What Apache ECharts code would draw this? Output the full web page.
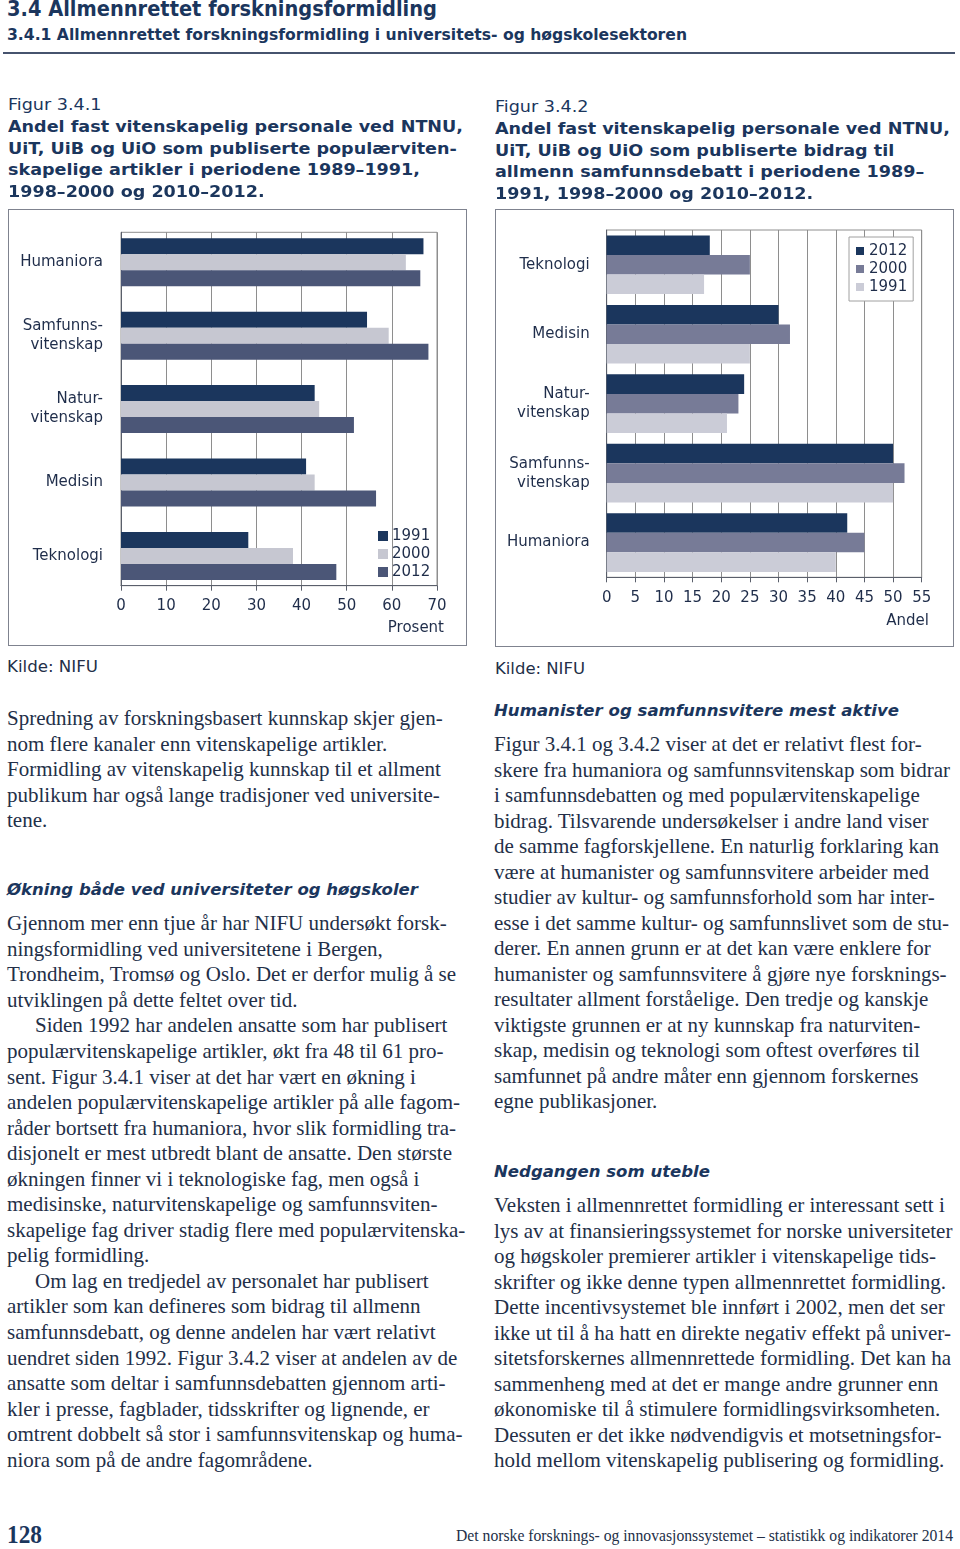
<!DOCTYPE html>
<html lang="no"><head><meta charset="utf-8">
<script src="https://cdn.jsdelivr.net/npm/echarts@6/dist/echarts.min.js"></script>
<style>
html,body{margin:0;padding:0;background:#fff;}
body{width:960px;height:1549px;position:relative;overflow:hidden;color:#232f48;}
.a{position:absolute;white-space:nowrap;transform-origin:0 50%;}
.sans{font-family:"DejaVu Sans",Verdana,sans-serif;}
.serif{font-family:"Liberation Serif","Times New Roman",serif;}
.h1{font-weight:bold;font-size:22px;color:#1b365d;}
.h2{font-weight:bold;font-size:16px;color:#1b365d;}
.fl{font-size:16px;color:#1b365d;}
.ft{font-size:16px;font-weight:bold;color:#1b365d;}
.sh{font-size:15px;font-weight:bold;font-style:italic;color:#1b365d;}
.body{font-size:21px;color:#232f48;}
.src{font-size:16px;color:#232f48;}
.pg{font-size:26px;font-weight:bold;color:#1b365d;}
.fo{font-size:17px;color:#232f48;}
.rule{position:absolute;left:3px;top:52px;width:952px;height:2px;background:#46536e;}
.box{position:absolute;border:1.5px solid #7f838f;box-sizing:border-box;pointer-events:none;}
.chart{position:absolute;}
</style></head><body>
<div class="rule"></div>
<div id="c1" class="chart" style="left:8px;top:209px;width:459px;height:437px;"></div>
<div id="c2" class="chart" style="left:495px;top:209px;width:459px;height:438px;"></div>
<div class="box" style="left:8px;top:209px;width:459px;height:437px;"></div>
<div class="box" style="left:495px;top:209px;width:459px;height:438px;"></div>
<script>
// ---------- data ----------
const yearsLeft = ['1991', '2000', '2012'];
const leftCategories = ['Humaniora', 'Samfunns-\nvitenskap', 'Natur-\nvitenskap', 'Medisin', 'Teknologi'];
const left1991 = [67.0, 54.5, 42.9, 41.0, 28.2];
const left2000 = [63.1, 59.3, 43.9, 42.9, 38.1];
const left2012 = [66.3, 68.1, 51.6, 56.5, 47.7];
const leftAxisMax = 70, leftAxisStep = 10, leftAxisName = 'Prosent';

const yearsRight = ['2012', '2000', '1991'];
const rightCategories = ['Teknologi', 'Medisin', 'Natur-\nvitenskap', 'Samfunns-\nvitenskap', 'Humaniora'];
const right2012 = [18, 30, 24, 50, 42];
const right2000 = [25, 32, 23, 52, 45];
const right1991 = [17, 25, 21, 50, 40];
const rightAxisMax = 55, rightAxisStep = 5, rightAxisName = 'Andel';

// ---------- texts ----------
const pageTitle = '3.4 Allmennrettet forskningsformidling';
const pageSub = '3.4.1 Allmennrettet forskningsformidling i universitets- og høgskolesektoren';
const fig1Label = 'Figur 3.4.1';
const fig1Title = ['Andel fast vitenskapelig personale ved NTNU,', 'UiT, UiB og UiO som publiserte populærviten-', 'skapelige artikler i periodene 1989–1991,', '1998–2000 og 2010–2012.'];
const fig2Label = 'Figur 3.4.2';
const fig2Title = ['Andel fast vitenskapelig personale ved NTNU,', 'UiT, UiB og UiO som publiserte bidrag til', 'allmenn samfunnsdebatt i periodene 1989–', '1991, 1998–2000 og 2010–2012.'];
const sourceText = 'Kilde: NIFU';
const leftPara1 = ['Spredning av forskningsbasert kunnskap skjer gjen-', 'nom flere kanaler enn vitenskapelige artikler.', 'Formidling av vitenskapelig kunnskap til et allment', 'publikum har også lange tradisjoner ved universite-', 'tene.'];
const leftHead = 'Økning både ved universiteter og høgskoler';
const leftPara2 = ['Gjennom mer enn tjue år har NIFU undersøkt forsk-', 'ningsformidling ved universitetene i Bergen,', 'Trondheim, Tromsø og Oslo. Det er derfor mulig å se', 'utviklingen på dette feltet over tid.',
 '>Siden 1992 har andelen ansatte som har publisert', 'populærvitenskapelige artikler, økt fra 48 til 61 pro-', 'sent. Figur 3.4.1 viser at det har vært en økning i', 'andelen populærvitenskapelige artikler på alle fagom-', 'råder bortsett fra humaniora, hvor slik formidling tra-', 'disjonelt er mest utbredt blant de ansatte. Den største', 'økningen finner vi i teknologiske fag, men også i', 'medisinske, naturvitenskapelige og samfunnsviten-', 'skapelige fag driver stadig flere med populærvitenska-', 'pelig formidling.',
 '>Om lag en tredjedel av personalet har publisert', 'artikler som kan defineres som bidrag til allmenn', 'samfunnsdebatt, og denne andelen har vært relativt', 'uendret siden 1992. Figur 3.4.2 viser at andelen av de', 'ansatte som deltar i samfunnsdebatten gjennom arti-', 'kler i presse, fagblader, tidsskrifter og lignende, er', 'omtrent dobbelt så stor i samfunnsvitenskap og huma-', 'niora som på de andre fagområdene.'];
const rightHead1 = 'Humanister og samfunnsvitere mest aktive';
const rightPara1 = ['Figur 3.4.1 og 3.4.2 viser at det er relativt flest for-', 'skere fra humaniora og samfunnsvitenskap som bidrar', 'i samfunnsdebatten og med populærvitenskapelige', 'bidrag. Tilsvarende undersøkelser i andre land viser', 'de samme fagforskjellene. En naturlig forklaring kan', 'være at humanister og samfunnsvitere arbeider med', 'studier av kultur- og samfunnsforhold som har inter-', 'esse i det samme kultur- og samfunnslivet som de stu-', 'derer. En annen grunn er at det kan være enklere for', 'humanister og samfunnsvitere å gjøre nye forsknings-', 'resultater allment forståelige. Den tredje og kanskje', 'viktigste grunnen er at ny kunnskap fra naturviten-', 'skap, medisin og teknologi som oftest overføres til', 'samfunnet på andre måter enn gjennom forskernes', 'egne publikasjoner.'];
const rightHead2 = 'Nedgangen som uteble';
const rightPara2 = ['Veksten i allmennrettet formidling er interessant sett i', 'lys av at finansieringssystemet for norske universiteter', 'og høgskoler premierer artikler i vitenskapelige tids-', 'skrifter og ikke denne typen allmennrettet formidling.', 'Dette incentivsystemet ble innført i 2002, men det ser', 'ikke ut til å ha hatt en direkte negativ effekt på univer-', 'sitetsforskernes allmennrettede formidling. Det kan ha', 'sammenheng med at det er mange andre grunner enn', 'økonomiske til å stimulere formidlingsvirksomheten.', 'Dessuten er det ikke nødvendigvis et motsetningsfor-', 'hold mellom vitenskapelig publisering og formidling.'];
const pageNumber = '128';
const footerText = 'Det norske forsknings- og innovasjonssystemet – statistikk og indikatorer 2014';

// ---------- text layout ----------
function put(text, x, yc, cls, lh) {
  const d = document.createElement('div');
  d.className = 'a ' + cls;
  d.textContent = text;
  lh = lh || 24;
  d.style.left = x + 'px';
  d.style.top = (yc - lh / 2) + 'px';
  d.style.lineHeight = lh + 'px';
  d.style.height = lh + 'px';
  document.body.appendChild(d);
  return d;
}
function fit(d, w) { const cw = d.getBoundingClientRect().width; d.style.transform = 'scaleX(' + (w / cw) + ')'; return w / cw; }
function scale(d, s) { d.style.transform = 'scaleX(' + s + ')'; }
function lines(arr, x, y0, step, cls) {
  arr.forEach((t, i) => {
    let xx = x;
    if (t[0] === '>') { t = t.slice(1); xx = x + 28; }
    put(t, xx, y0 + i * step, cls, step);
  });
}

fit(put(pageTitle, 7, 9, 'sans h1', 26), 430);
fit(put(pageSub, 7, 35, 'sans h2'), 680);

// figure titles
const ft1 = put(fig1Title[0], 8, 127, 'sans ft');
const sFig = fit(ft1, 455);
fig1Title.slice(1).forEach((t, i) => scale(put(t, 8, 127 + (i + 1) * 21.5, 'sans ft'), sFig));
scale(put(fig1Label, 8, 105, 'sans fl'), sFig);
fig2Title.forEach((t, i) => scale(put(t, 495, 129 + i * 21.5, 'sans ft'), sFig));
scale(put(fig2Label, 495, 107, 'sans fl'), sFig);

fit(put(sourceText, 7, 667, 'sans src'), 91);
fit(put(sourceText, 495, 669, 'sans src'), 90);

lines(leftPara1, 7, 719, 25.5, 'serif body');
fit(put(leftHead, 7, 890, 'sans sh'), 411);
lines(leftPara2, 7, 924, 25.55, 'serif body');
fit(put(rightHead1, 494, 711, 'sans sh'), 405);
lines(rightPara1, 494, 745, 25.5, 'serif body');
fit(put(rightHead2, 494, 1172, 'sans sh'), 216);
lines(rightPara2, 494, 1206, 25.5, 'serif body');

fit(put(pageNumber, 7, 1535, 'serif pg', 30), 35);
fit(put(footerText, 456, 1536, 'serif fo'), 497);

// ---------- charts ----------
const TXT = '#1f2d4a';
const NAVY = '#1b365d', LIGHT = '#c6c7d1', SLATE = '#4b5677', MID = '#777b97', LIGHT2 = '#cbccd7';
const FONT = 'DejaVu Sans';
const axisCol = '#5a5f6b', gridCol = '#8e8e8e';

const c1 = echarts.init(document.getElementById('c1'), null, {renderer: 'canvas'});
c1.setOption({
  animation: false,
  textStyle: {fontFamily: FONT},
  grid: [
    {left: 113, top: 23.3, width: 316, height: 353.4, show: true, borderColor: gridCol, borderWidth: 1, backgroundColor: 'transparent', containLabel: false, outerBoundsMode: 'none'},
    {left: 113, top: 16.6, width: 316, height: 367, containLabel: false, outerBoundsMode: 'none'}
  ],
  xAxis: [
    {gridIndex: 0, type: 'value', min: 0, max: leftAxisMax, interval: leftAxisStep,
     splitLine: {show: true, lineStyle: {color: gridCol, width: 1}},
     axisLine: {show: true, lineStyle: {color: axisCol, width: 1}},
     axisTick: {show: true, length: 5, lineStyle: {color: axisCol}},
     axisLabel: {fontSize: 15, color: TXT, margin: 13, fontFamily: FONT}},
    {gridIndex: 1, type: 'value', min: 0, max: leftAxisMax, show: false}
  ],
  yAxis: [
    {gridIndex: 0, type: 'category', data: leftCategories, inverse: true,
     axisLine: {show: true, lineStyle: {color: axisCol}}, axisTick: {show: false}, axisLabel: {show: false}, splitLine: {show: false}},
    {gridIndex: 1, type: 'category', data: leftCategories, inverse: true,
     axisLine: {show: false}, axisTick: {show: false}, splitLine: {show: false},
     axisLabel: {fontSize: 15, lineHeight: 19, color: TXT, margin: 18, align: 'right', fontFamily: FONT}}
  ],
  legend: {
    orient: 'vertical', left: 370, top: 318, padding: 0, itemGap: 0,
    itemWidth: 10, itemHeight: 10, icon: 'rect', data: yearsLeft,
    textStyle: {fontSize: 15, lineHeight: 18, color: TXT, fontFamily: FONT, padding: [0, 0, 0, -1]}
  },
  series: [
    {name: yearsLeft[0], type: 'bar', xAxisIndex: 1, yAxisIndex: 1, data: left1991, itemStyle: {color: NAVY}, barCategoryGap: '34.6%', barGap: '0%'},
    {name: yearsLeft[1], type: 'bar', xAxisIndex: 1, yAxisIndex: 1, data: left2000, itemStyle: {color: LIGHT}, barCategoryGap: '34.6%', barGap: '0%'},
    {name: yearsLeft[2], type: 'bar', xAxisIndex: 1, yAxisIndex: 1, data: left2012, itemStyle: {color: SLATE}, barCategoryGap: '34.6%', barGap: '0%'}
  ],
  graphic: [
    {type: 'text', x: 436, y: 419, style: {text: leftAxisName, align: 'right', verticalAlign: 'middle', fontSize: 15, fontFamily: FONT, fill: TXT}}
  ]
});

const c2 = echarts.init(document.getElementById('c2'), null, {renderer: 'canvas'});
c2.setOption({
  animation: false,
  textStyle: {fontFamily: FONT},
  grid: {left: 111.7, top: 21, width: 315, height: 347.3, show: true, borderColor: gridCol, borderWidth: 1, backgroundColor: 'transparent', containLabel: false, outerBoundsMode: 'none'},
  xAxis: {type: 'value', min: 0, max: rightAxisMax, interval: rightAxisStep,
    splitLine: {show: true, lineStyle: {color: gridCol, width: 1}},
    axisLine: {show: true, lineStyle: {color: axisCol, width: 1}},
    axisTick: {show: true, length: 5, lineStyle: {color: axisCol}},
    axisLabel: {fontSize: 15, color: TXT, margin: 13, fontFamily: FONT}},
  yAxis: {type: 'category', data: rightCategories, inverse: true,
    axisLine: {show: true, lineStyle: {color: axisCol}}, axisTick: {show: false}, splitLine: {show: false},
    axisLabel: {fontSize: 15, lineHeight: 19, color: TXT, margin: 17, align: 'right', fontFamily: FONT}},
  legend: {
    orient: 'vertical', left: 354, top: 28, padding: [5, 6, 5, 7], itemGap: 0,
    borderColor: '#a0a0a0', borderWidth: 1, backgroundColor: '#fff',
    itemWidth: 8, itemHeight: 8, icon: 'rect', data: yearsRight,
    textStyle: {fontSize: 15, lineHeight: 18, color: TXT, fontFamily: FONT}
  },
  series: [
    {name: yearsRight[0], type: 'bar', data: right2012, itemStyle: {color: NAVY}, barCategoryGap: '15.6%', barGap: '0%'},
    {name: yearsRight[1], type: 'bar', data: right2000, itemStyle: {color: MID}, barCategoryGap: '15.6%', barGap: '0%'},
    {name: yearsRight[2], type: 'bar', data: right1991, itemStyle: {color: LIGHT2}, barCategoryGap: '15.6%', barGap: '0%'}
  ],
  graphic: [
    {type: 'text', x: 434, y: 412, style: {text: rightAxisName, align: 'right', verticalAlign: 'middle', fontSize: 15, fontFamily: FONT, fill: TXT}}
  ]
});
</script>
</body></html>
